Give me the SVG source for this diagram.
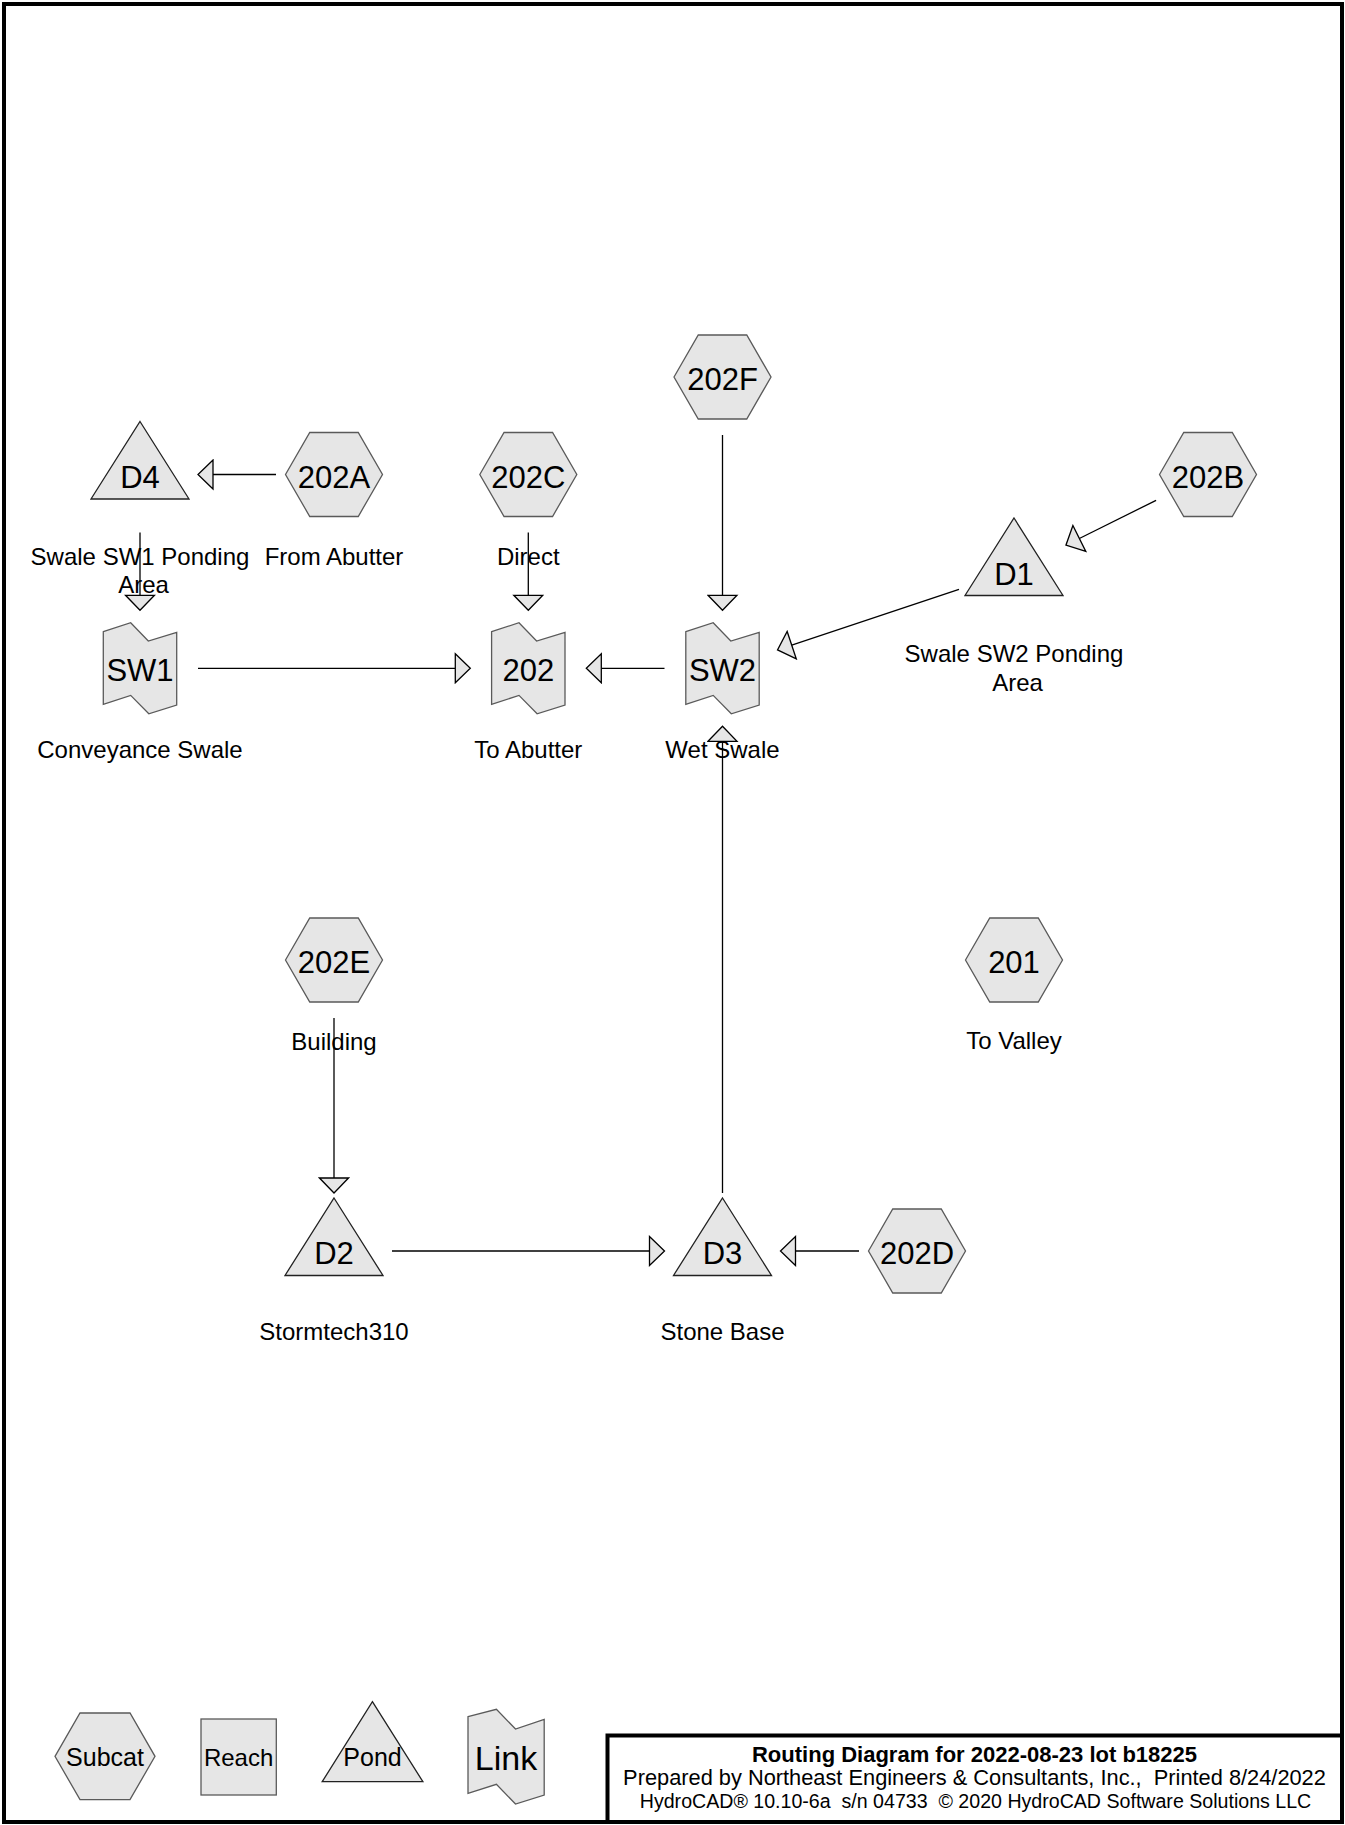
<svg xmlns="http://www.w3.org/2000/svg" xmlns:xlink="http://www.w3.org/1999/xlink" width="1345" height="1825" viewBox="0 0 1345 1825">
<style>
.shape{fill:#e6e6e6;stroke:#5a5a5a;stroke-width:1.3}
.pond{fill:#e6e6e6;stroke:#222;stroke-width:1.3}
.id{font-family:"Liberation Sans",Arial,sans-serif;font-size:31px;text-anchor:middle;fill:#000}
.lbl{font-family:"Liberation Sans",Arial,sans-serif;font-size:24px;text-anchor:middle;fill:#000}
.conn line{stroke:#000;stroke-width:1.3;marker-end:url(#arr)}
.tb{font-family:"Liberation Sans",Arial,sans-serif;text-anchor:middle;fill:#000;white-space:pre}
</style>
<defs>
<polygon id="hex" points="-48.5,0 -24.25,-42 24.25,-42 48.5,0 24.25,42 -24.25,42"/>
<polygon id="tri" points="0,-53 49,24.5 -49,24.5"/>
<polygon id="lnk" points="-36.7,-36.6 -9.3,-45.6 8.3,-27.3 36.7,-36 36.7,36.7 8.8,45.5 -9.3,27.1 -36.7,36.1"/>
<marker id="arr" markerUnits="userSpaceOnUse" viewBox="-2 -16 19 32" markerWidth="19" markerHeight="32" refX="0" refY="0" orient="auto">
<polygon points="0,-14.5 15,0 0,14.5" fill="#e6e6e6" stroke="#000" stroke-width="1.3"/>
</marker>
</defs>
<rect x="0" y="0" width="1345" height="1825" fill="#fff"/>
<rect x="4" y="4" width="1338" height="1818" fill="none" stroke="#000" stroke-width="4"/>

<g id="connectors" class="conn">
<line x1="276" y1="474.5" x2="213" y2="474.5"/>
<line x1="140" y1="532.5" x2="140" y2="595.3"/>
<line x1="528.3" y1="532.5" x2="528.3" y2="595.3"/>
<line x1="722.5" y1="435" x2="722.5" y2="595.3"/>
<line x1="198" y1="668.3" x2="455.3" y2="668.3"/>
<line x1="664.5" y1="668.3" x2="601.3" y2="668.3"/>
<line x1="1156.07" y1="500.33" x2="1079.36" y2="538.49"/>
<line x1="958.98" y1="589.36" x2="791.75" y2="645.19"/>
<line x1="722.5" y1="1193" x2="722.5" y2="741.3"/>
<line x1="334" y1="1018" x2="334" y2="1178"/>
<line x1="392" y1="1251" x2="649.5" y2="1251"/>
<line x1="859" y1="1251" x2="795.5" y2="1251"/>
</g>

<g id="node-202F"><use xlink:href="#hex" href="#hex" class="shape" x="722.5" y="377"/><text class="id" x="722.5" y="390">202F</text></g>
<g id="node-202A"><use xlink:href="#hex" href="#hex" class="shape" x="334" y="474.5"/><text class="id" x="334" y="487.5">202A</text><text class="lbl" x="334" y="565">From Abutter</text></g>
<g id="node-202C"><use xlink:href="#hex" href="#hex" class="shape" x="528.3" y="474.5"/><text class="id" x="528.3" y="487.5">202C</text><text class="lbl" x="528.3" y="565">Direct</text></g>
<g id="node-202B"><use xlink:href="#hex" href="#hex" class="shape" x="1208" y="474.5"/><text class="id" x="1208" y="487.5">202B</text></g>
<g id="node-202E"><use xlink:href="#hex" href="#hex" class="shape" x="334" y="960"/><text class="id" x="334" y="973">202E</text><text class="lbl" x="334" y="1050">Building</text></g>
<g id="node-201"><use xlink:href="#hex" href="#hex" class="shape" x="1014" y="960"/><text class="id" x="1014" y="973">201</text><text class="lbl" x="1014" y="1049">To Valley</text></g>
<g id="node-202D"><use xlink:href="#hex" href="#hex" class="shape" x="917" y="1251"/><text class="id" x="917" y="1264">202D</text></g>

<g id="node-D4"><use xlink:href="#tri" href="#tri" class="pond" x="140" y="474.5"/><text class="id" x="140" y="487.5">D4</text><text class="lbl" x="140" y="565">Swale SW1 Ponding</text><text class="lbl" x="143.5" y="593">Area</text></g>
<g id="node-D1"><use xlink:href="#tri" href="#tri" class="pond" x="1014" y="571"/><text class="id" x="1014" y="584.5">D1</text><text class="lbl" x="1014" y="661.5">Swale SW2 Ponding</text><text class="lbl" x="1017.5" y="690.5">Area</text></g>
<g id="node-D2"><use xlink:href="#tri" href="#tri" class="pond" x="334" y="1251"/><text class="id" x="334" y="1263.5">D2</text><text class="lbl" x="334" y="1340">Stormtech310</text></g>
<g id="node-D3"><use xlink:href="#tri" href="#tri" class="pond" x="722.5" y="1251"/><text class="id" x="722.5" y="1263.5">D3</text><text class="lbl" x="722.5" y="1340">Stone Base</text></g>

<g id="node-SW1"><use xlink:href="#lnk" href="#lnk" class="shape" x="140" y="668.3"/><text class="id" x="140" y="681">SW1</text><text class="lbl" x="140" y="757.7">Conveyance Swale</text></g>
<g id="node-202"><use xlink:href="#lnk" href="#lnk" class="shape" x="528.3" y="668.3"/><text class="id" x="528.3" y="681">202</text><text class="lbl" x="528.3" y="757.7">To Abutter</text></g>
<g id="node-SW2"><use xlink:href="#lnk" href="#lnk" class="shape" x="722.5" y="668.3"/><text class="id" x="722.5" y="681">SW2</text><text class="lbl" x="722.5" y="757.7">Wet Swale</text></g>

<g id="legend">
<g id="legend-subcat"><polygon class="shape" points="55,1756.3 80,1713 130,1713 155,1756.3 130,1799.6 80,1799.6"/><text class="lbl" x="105" y="1766" style="font-size:25px">Subcat</text></g>
<g id="legend-reach"><rect class="shape" x="201" y="1719" width="75.3" height="76"/><text class="lbl" x="238.6" y="1766">Reach</text></g>
<g id="legend-pond"><polygon class="pond" points="372.4,1701.7 422.9,1781.7 322.2,1781.7"/><text class="lbl" x="372.5" y="1766" style="font-size:25px">Pond</text></g>
<g id="legend-link"><polygon class="shape" points="468,1716.7 496.4,1709.3 515.5,1729 544.2,1719.3 544.2,1795 515.5,1804 496.4,1784.3 468,1793.3"/><text class="lbl" x="506" y="1770" style="font-size:34px">Link</text></g>
</g>

<g id="title-block">
<path d="M607.5,1822 V1735.5 H1342" fill="none" stroke="#000" stroke-width="4"/>
<text class="tb" x="974.5" y="1761.5" style="font-size:22px;font-weight:bold">Routing Diagram for 2022-08-23 lot b18225</text>
<text class="tb" x="974.5" y="1785" style="font-size:21.8px">Prepared by Northeast Engineers &amp; Consultants, Inc.,  Printed 8/24/2022</text>
<text class="tb" x="975.5" y="1808.3" style="font-size:19.6px">HydroCAD® 10.10-6a  s/n 04733  © 2020 HydroCAD Software Solutions LLC</text>
</g>
</svg>
